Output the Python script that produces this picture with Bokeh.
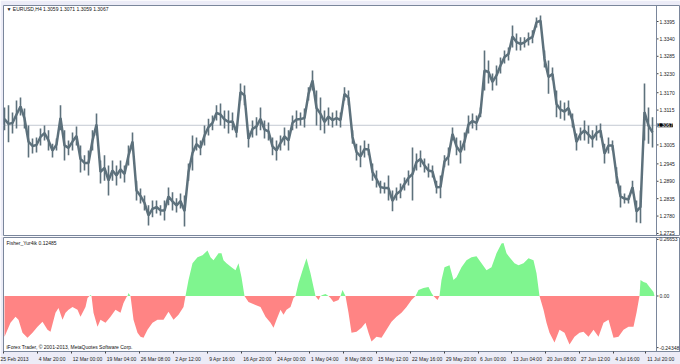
from bokeh.plotting import figure
from bokeh.layouts import column
from bokeh.models import (Range1d, LinearAxis, FixedTicker, CustomJSTickFormatter,
                          Label, Span)
from bokeh.core.properties import value
from bokeh.embed import file_html
from bokeh.resources import INLINE

# ---------------- data ----------------
# time slots (every 4 slots ~ 4 H4 bars)
bar = list(range(4, 653, 4))

price_high = [
    1.3123, 1.3130, 1.3107, 1.3145, 1.3155, 1.3120, 1.3066, 1.3025, 1.3028, 1.3057,
    1.3066, 1.3051, 1.3009, 1.3025, 1.3130, 1.3051, 1.3019, 1.3044, 1.3063, 1.3003,
    1.2972, 1.2987, 1.3051, 1.3104, 1.2956, 1.2972, 1.2940, 1.2956, 1.2940, 1.2956,
    1.2940, 1.3003, 1.3044, 1.2892, 1.2867, 1.2845, 1.2814, 1.2829, 1.2829, 1.2814,
    1.2829, 1.2870, 1.2855, 1.2836, 1.2851, 1.2845, 1.2946, 1.3035, 1.3028, 1.3019,
    1.3066, 1.3088, 1.3098, 1.3130, 1.3136, 1.3114, 1.3114, 1.3107, 1.3060, 1.3199,
    1.3193, 1.3051, 1.3082, 1.3092, 1.3123, 1.3082, 1.3076, 1.3028, 1.3019, 1.3035,
    1.3060, 1.3051, 1.3098, 1.3114, 1.3107, 1.3120, 1.3187, 1.3240, 1.3177, 1.3155,
    1.3114, 1.3123, 1.3107, 1.3114, 1.3107, 1.3187, 1.3177, 1.3051, 1.3009, 1.3003,
    1.3019, 1.3009, 1.2946, 1.2924, 1.2892, 1.2886, 1.2908, 1.2861, 1.2870, 1.2883,
    1.2902, 1.2924, 1.2997, 1.2978, 1.2987, 1.2962, 1.2946, 1.2940, 1.2892, 1.2908,
    1.2972, 1.2997, 1.3060, 1.3028, 1.3019, 1.3044, 1.3098, 1.3104, 1.3098, 1.3123,
    1.3303, 1.3272, 1.3231, 1.3256, 1.3281, 1.3303, 1.3313, 1.3382, 1.3357, 1.3345,
    1.3345, 1.3360, 1.3367, 1.3408, 1.3414, 1.3303, 1.3272, 1.3250, 1.3177, 1.3145,
    1.3139, 1.3145, 1.3104, 1.3041, 1.3060, 1.3082, 1.3066, 1.3051, 1.3066, 1.3073,
    1.3009, 1.3028, 1.3019, 1.2934, 1.2877, 1.2851, 1.2845, 1.2892, 1.2829, 1.2861,
    1.3199, 1.3123, 1.3092,
]
price_low = [
    1.3051, 1.3013, 1.3041, 1.3057, 1.3098, 1.3057, 1.2965, 1.2978, 1.2981, 1.3003,
    1.3019, 1.2987, 1.2965, 1.2987, 1.3051, 1.2956, 1.2972, 1.2987, 1.3003, 1.2918,
    1.2924, 1.2908, 1.2987, 1.3035, 1.2883, 1.2892, 1.2845, 1.2892, 1.2877, 1.2899,
    1.2886, 1.2940, 1.2987, 1.2829, 1.2820, 1.2798, 1.2750, 1.2776, 1.2788, 1.2782,
    1.2766, 1.2814, 1.2798, 1.2791, 1.2804, 1.2747, 1.2892, 1.2924, 1.2987, 1.2972,
    1.3003, 1.3035, 1.3051, 1.3082, 1.3066, 1.3057, 1.3041, 1.3051, 1.3028, 1.3145,
    1.3130, 1.2997, 1.3028, 1.3035, 1.3051, 1.3025, 1.3019, 1.2972, 1.2956, 1.2987,
    1.3003, 1.2987, 1.3051, 1.3057, 1.3066, 1.3060, 1.3145, 1.3177, 1.3066, 1.3051,
    1.3041, 1.3066, 1.3060, 1.3066, 1.3060, 1.3145, 1.3130, 1.3009, 1.2956, 1.2934,
    1.2965, 1.2972, 1.2892, 1.2870, 1.2851, 1.2851, 1.2829, 1.2795, 1.2829, 1.2836,
    1.2861, 1.2877, 1.2829, 1.2924, 1.2934, 1.2918, 1.2902, 1.2902, 1.2851, 1.2836,
    1.2934, 1.2940, 1.3019, 1.2972, 1.2946, 1.2987, 1.3041, 1.3057, 1.3051, 1.3092,
    1.3177, 1.3199, 1.3177, 1.3193, 1.3231, 1.3262, 1.3272, 1.3313, 1.3303, 1.3303,
    1.3313, 1.3319, 1.3326, 1.3376, 1.3382, 1.3250, 1.3167, 1.3209, 1.3092, 1.3088,
    1.3082, 1.3098, 1.3060, 1.2987, 1.3019, 1.3019, 1.3009, 1.2997, 1.3019, 1.3028,
    1.2946, 1.2978, 1.2987, 1.2883, 1.2807, 1.2820, 1.2820, 1.2851, 1.2760, 1.2757,
    1.3019, 1.3009, 1.2997,
]
last_price = 1.3067
price_ticks = [1.3395, 1.3340, 1.3285, 1.3230, 1.3170, 1.3115, 1.3005,
               1.2945, 1.2890, 1.2835, 1.2780, 1.2725]

ind_x = [4, 7, 10, 15, 18, 22, 27, 32, 37, 42, 47, 50, 55, 58, 62, 65, 68, 72, 77, 80,
         85, 87, 89, 90, 91, 93, 97, 100, 105, 110, 115, 120, 123, 126, 127, 128, 130,
         133, 137, 140, 143, 147, 152, 157, 163, 168, 173, 178, 183, 185, 188, 192, 197,
         202, 207, 210, 213, 218, 221, 223, 226, 231, 235, 238, 241, 244, 248, 255, 260,
         265, 270, 273, 276, 280, 283, 286, 290, 293, 295, 298, 303, 306, 310, 313, 315,
         318, 320, 322, 325, 328, 330, 333, 338, 340, 342, 345, 348, 351, 356, 361, 365,
         368, 371, 376, 381, 386, 391, 396, 401, 406, 411, 415, 418, 423, 428, 431, 433,
         435, 437, 439, 441, 444, 449, 453, 456, 461, 466, 471, 476, 481, 486, 491, 496,
         501, 503, 506, 509, 514, 518, 523, 528, 533, 536, 539, 543, 546, 549, 554, 559,
         564, 569, 574, 579, 583, 588, 593, 598, 603, 608, 613, 618, 623, 628, 633, 636,
         639, 640, 643, 646, 649, 653, 654]
ind_val = [-0.1917, -0.1590, -0.1262, -0.0982, -0.1122, -0.1730, -0.1964, -0.1730, -0.1449,
           -0.1216, -0.1590, -0.1683, -0.0795, -0.0561, -0.1122, -0.0795, -0.0655, -0.0514,
           -0.0655, -0.0982, -0.0514, -0.0094, 0.0, 0.0050, 0.0, -0.0795, -0.1449, -0.1122,
           -0.1262, -0.0982, -0.0655, -0.0795, -0.0327, -0.0047, 0.0, 0.0140, 0.0,
           -0.1122, -0.1730, -0.1917, -0.1964, -0.1590, -0.1262, -0.1122, -0.1122, -0.0748,
           -0.1122, -0.0888, -0.0514, 0.0, 0.0748, 0.1543, 0.1823, 0.1917, 0.2150, 0.1823,
           0.1683, 0.2010, 0.2010, 0.1683, 0.1543, 0.1356, 0.1216, 0.1543, 0.0888, 0.0,
           -0.0281, -0.0421, -0.0514, -0.0982, -0.1262, -0.1496, -0.1122, -0.0655, -0.0888,
           -0.0655, -0.0514, -0.0094, 0.0, 0.0608, 0.1356, 0.1776, 0.1075, 0.0421, 0.0,
           -0.0187, 0.0, 0.0047, 0.0094, 0.0, -0.0094, -0.0281, -0.0187, 0.0, 0.0281, 0.0,
           -0.0795, -0.1730, -0.1683, -0.1496, -0.1262, -0.1730, -0.2151, -0.1917, -0.1964,
           -0.1590, -0.1216, -0.0982, -0.0795, -0.0514, -0.0187, 0.0, 0.0281, 0.0374, 0.0421,
           0.0140, 0.0, -0.0094, -0.0187, 0.0, 0.0748, 0.1356, 0.1449, 0.0748, 0.0888,
           0.1356, 0.1683, 0.1823, 0.1870, 0.1543, 0.1216, 0.1356, 0.2010, 0.2478, 0.2493,
           0.2010, 0.1823, 0.1543, 0.1449, 0.1543, 0.1776, 0.1683, 0.1075, 0.0, -0.0655,
           -0.1262, -0.1730, -0.2197, -0.1590, -0.1730, -0.2291, -0.1917, -0.1730, -0.1683,
           -0.1917, -0.1590, -0.1917, -0.1262, -0.1122, -0.1964, -0.1917, -0.1590, -0.1449,
           -0.1449, -0.0795, 0.0, 0.0748, 0.0655, 0.0608, 0.0421, 0.0187, 0.0]
ind_ticks = [0.26653, 0.0, -0.24348]
ind_tick_labels = ["0.26653", "0.00", "-0.24348"]

time_slots = [3, 37, 71, 105, 139, 173, 207, 241, 275, 309, 343, 376, 410, 444, 478,
              511, 545, 579, 613, 645]
time_labels = ["25 Feb 2013", "4 Mar 20:00", "12 Mar 00:00", "19 Mar 04:00",
               "26 Mar 08:00", "2 Apr 12:00", "9 Apr 16:00", "16 Apr 20:00",
               "24 Apr 00:00", "1 May 04:00", "8 May 08:00", "15 May 12:00",
               "22 May 16:00", "29 May 20:00", "6 Jun 00:00", "13 Jun 04:00",
               "20 Jun 08:00", "27 Jun 12:00", "4 Jul 16:00", "11 Jul 20:00"]

main_title = "\u25bc EURUSD,H4  1.3059 1.3071 1.3059 1.3067"
ind_title = "Fisher_Yur4ik 0.12485"
copyright_text = "iForex Trader, \u00a9 2001-2013, MetaQuotes Software Corp."

# ---------------- style ----------------
FONT = "Liberation Sans"
FS = "5px"
PRICE_C = "#5d717c"
GREEN = "#7ff58f"
RED = "#ff8484"
FRAME = "#7a869b"
BORDER = "#ececf7"
TXT = "#222222"

# chart area ends at slot 656; the price scale strip (656..680) lies inside the frame
CHART_END = 656
SCALE_TXT = 659

# MT4 draws time labels starting at the tick; Bokeh centres them, so pad the
# front with no-break spaces of the same advance width as the visible text.
CHAR_EM = {" ": 0.278, ":": 0.278, "M": 0.833, "a": 0.556, "r": 0.333, "A": 0.667,
           "p": 0.556, "y": 0.5, "J": 0.5, "u": 0.556, "n": 0.556, "l": 0.222,
           "F": 0.611, "e": 0.556, "b": 0.556}


def lead_pad(s):
    em = sum(CHAR_EM.get(c, 0.556) for c in s)
    return "\u00a0" * (round(em / 0.278) + 2) + s


shown_labels = [time_labels[0]] + [lead_pad(s) for s in time_labels[1:]]

x_range = Range1d(3, 680)


def style_fig(p):
    p.background_fill_color = "white"
    p.border_fill_color = BORDER
    p.outline_line_color = FRAME
    p.outline_line_width = 1
    p.xgrid.visible = False
    p.ygrid.visible = False


def price_scale(p, ticks, labels):
    n = len(ticks)
    p.add_layout(Span(location=CHART_END, dimension="height", line_color=FRAME,
                      line_width=1))
    p.segment(x0=[CHART_END] * n, y0=ticks, x1=[CHART_END + 2] * n, y1=ticks,
              line_color="#444444", line_width=1)
    p.text(x=[SCALE_TXT] * n, y=ticks, text=labels, text_font=value(FONT),
           text_font_size=value(FS), text_color=TXT, text_baseline="middle",
           text_align="left")


# ---------------- main price panel ----------------
p1 = figure(width=680, height=236, output_backend="svg", toolbar_location=None,
            x_range=x_range, y_range=Range1d(1.27186, 1.34456),
            min_border_left=3, min_border_right=0, min_border_top=5, min_border_bottom=1,
            x_axis_location=None, y_axis_location=None)
style_fig(p1)

price_mid = [(h + l) / 2 for h, l in zip(price_high, price_low)]
p1.segment(x0=[3], y0=[last_price], x1=[CHART_END], y1=[last_price],
           line_color="#c4c9d2", line_width=1)
p1.segment(x0=bar, y0=price_low, x1=bar, y1=price_high, line_color=PRICE_C, line_width=1.6)
p1.line(bar, price_mid, line_color=PRICE_C, line_width=2.5)

price_scale(p1, price_ticks, ["%.4f" % t for t in price_ticks])

p1.add_layout(Label(x=CHART_END + 1, y=last_price, text="%.4f" % last_price,
                    text_font=FONT, text_font_size=FS, text_color="white",
                    text_baseline="middle", text_align="left",
                    background_fill_color="black"))
p1.add_layout(Label(x=6, y=1.3436, text=main_title, text_font=FONT, text_font_size=FS,
                    text_color="#111111", text_baseline="middle", text_align="left"))

# ---------------- indicator panel ----------------
ind_pos = [max(v, 0.0) for v in ind_val]
ind_neg = [min(v, 0.0) for v in ind_val]
zeros = [0.0] * len(ind_val)

p2 = figure(width=680, height=128, output_backend="svg", toolbar_location=None,
            x_range=x_range, y_range=Range1d(-0.2618, 0.2758),
            min_border_left=3, min_border_right=0, min_border_top=1, min_border_bottom=12,
            x_axis_location=None, y_axis_location=None)
style_fig(p2)

p2.varea(x=ind_x, y1=zeros, y2=ind_pos, fill_color=GREEN)
p2.varea(x=ind_x, y1=ind_neg, y2=zeros, fill_color=RED)

price_scale(p2, ind_ticks, ind_tick_labels)

ax2 = LinearAxis(ticker=FixedTicker(ticks=time_slots),
                 formatter=CustomJSTickFormatter(
                     args=dict(pos=time_slots, lab=shown_labels),
                     code="const i = pos.indexOf(tick); return i >= 0 ? lab[i] : '';"))
ax2.major_label_text_font = FONT
ax2.major_label_text_font_size = FS
ax2.major_label_text_color = TXT
ax2.major_tick_out = 2
ax2.major_tick_in = 0
ax2.minor_tick_out = 0
ax2.minor_tick_in = 0
ax2.axis_line_color = FRAME
ax2.major_tick_line_color = "#444444"
ax2.major_label_standoff = 2
p2.add_layout(ax2, "below")

p2.add_layout(Label(x=6, y=0.2478, text=ind_title, text_font=FONT, text_font_size=FS,
                    text_color="#111111", text_baseline="middle", text_align="left"))
p2.add_layout(Label(x=6, y=-0.2408, text=copyright_text, text_font=FONT,
                    text_font_size=FS, text_color="#111111", text_baseline="middle",
                    text_align="left"))

layout = column(p1, p2, spacing=0)
open("out.html", "w").write(file_html(layout, INLINE))
